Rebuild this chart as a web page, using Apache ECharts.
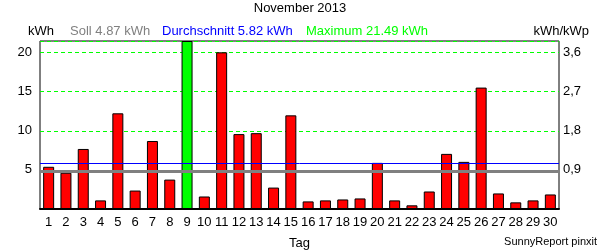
<!DOCTYPE html>
<html><head><meta charset="utf-8">
<script src="https://cdn.jsdelivr.net/npm/echarts@6/dist/echarts.min.js"></script>
<style>html,body{margin:0;padding:0;background:#fff}#c{width:600px;height:250px}</style>
</head><body><div id="c"></div>
<script>
var titleText = "November 2013";
var days = ["1","2","3","4","5","6","7","8","9","10","11","12","13","14","15","16","17","18","19","20","21","22","23","24","25","26","27","28","29","30"];
var kwh = [5.4,4.64,7.68,1.1,12.24,2.36,8.7,3.76,21.49,1.6,20.04,9.58,9.7,2.74,11.98,0.97,1.1,1.22,1.35,5.9,1.1,0.47,2.24,7.05,6.03,15.53,1.99,0.85,1.1,1.86];
var sollValue = 4.87;
var avgValue = 5.82;
var maxValue = 21.49;
var kwhPerKwp = 0.18;
var leftTicks = [5,10,15,20];
var rightTicks = ["0,9","1,8","2,7","3,6"];

var F = "Liberation Sans, Arial, sans-serif";
var chart = echarts.init(document.getElementById('c'), null, {renderer:'canvas'});
var barData = kwh.map(function(v){
  return v === maxValue ? {value:v, itemStyle:{color:'#00ff00'}} : v;
});
chart.setOption({
  animation:false,
  backgroundColor:'#ffffff',
  textStyle:{fontFamily:F},
  grid:{left:40,right:41,top:41,bottom:41,show:true,borderColor:'#000',borderWidth:1,backgroundColor:'transparent'},
  graphic:[
    {type:'text',left:'center',top:2,style:{text:titleText,font:'13px '+F,fill:'#000'}},
    {type:'text',left:28,top:25,style:{text:'kWh',font:'13px '+F,fill:'#000'}},
    {type:'text',left:70,top:25,style:{text:'Soll '+sollValue.toFixed(2)+' kWh',font:'13px '+F,fill:'#808080'}},
    {type:'text',left:162,top:25,style:{text:'Durchschnitt '+avgValue.toFixed(2)+' kWh',font:'13px '+F,fill:'#0000ff'}},
    {type:'text',left:306,top:25,style:{text:'Maximum '+maxValue.toFixed(2)+' kWh',font:'13px '+F,fill:'#00ff00'}},
    {type:'text',right:11,top:25,style:{text:'kWh/kWp',font:'13px '+F,fill:'#000'}},
    {type:'text',left:289,top:237,style:{text:'Tag',font:'13px '+F,fill:'#000'}},
    {type:'text',right:3,top:236,style:{text:'SunnyReport pinxit',font:'11px '+F,fill:'#000'}}
  ],
  xAxis:{type:'category',data:days,
    axisLine:{lineStyle:{color:'#000',width:2}},axisTick:{show:false},
    axisLabel:{color:'#000',fontSize:13,fontFamily:F,margin:7,interval:0}},
  yAxis:[
    {type:'value',min:0,max:maxValue,interval:5,
     axisLine:{show:false},axisTick:{show:false},
     axisLabel:{color:'#000',fontSize:13,fontFamily:F,margin:8,
       showMaxLabel:false,
       formatter:function(v){return leftTicks.indexOf(v)>=0?String(v):'';}},
     splitLine:{show:true,lineStyle:{color:'#00ff00',type:[4,3],width:1}}},
    {type:'value',min:0,max:maxValue*kwhPerKwp,interval:0.9,
     axisLine:{show:false},axisTick:{show:false},splitLine:{show:false},
     axisLabel:{color:'#000',fontSize:13,fontFamily:F,margin:4,showMaxLabel:false,
       formatter:function(v,i){return i>0 && rightTicks[i-1]?rightTicks[i-1]:'';}}}
  ],
  series:[{type:'bar',data:barData,barWidth:11,
    itemStyle:{color:'#ff0000',borderColor:'#000',borderWidth:1},
    markLine:{silent:true,symbol:'none',label:{show:false},
      data:[
        {yAxis:sollValue,lineStyle:{color:'#808080',width:3,type:'solid'}},
        {yAxis:avgValue,lineStyle:{color:'#0000ff',width:1,type:'solid'}}
      ]}
  }]
});
</script></body></html>
